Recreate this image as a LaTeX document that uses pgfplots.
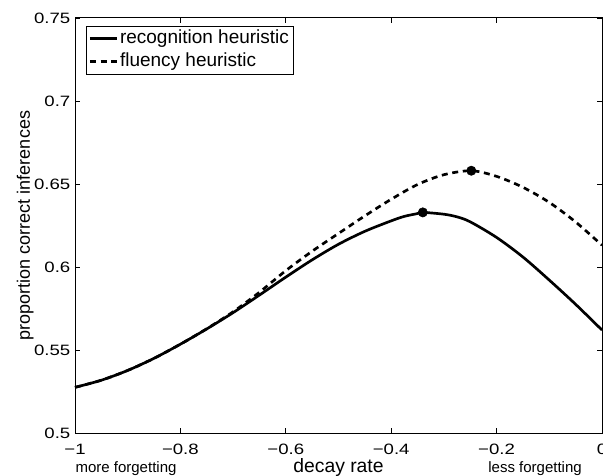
\documentclass[border=0pt]{standalone}
\usepackage{fontspec}
\setmainfont{Liberation Sans}
\newfontfamily\tickfont[FakeStretch=1.24]{Liberation Sans}
\usepackage{pgfplots}
\pgfplotsset{compat=1.18}

\begin{document}
\begin{tikzpicture}
\begin{axis}[
    scale only axis, width=395.25pt, height=311.25pt,
    xmin=-1, xmax=0, ymin=0.5, ymax=0.75,
    clip=false,
    xtick={-1,-0.8,-0.6,-0.4,-0.2,0},
    xticklabels={−1,−0.8,−0.6,−0.4,−0.2,0},
    ytick={0.5,0.55,0.6,0.65,0.7,0.75},
    yticklabels={0.5,0.55,0.6,0.65,0.7,0.75},
    tick align=inside, tick pos=both,
    major tick length=3.75pt,
    tick style={black, line width=0.6pt},
    axis line style={line width=0.75pt},
    tick label style={font=\tickfont\fontsize{11.25}{13}\selectfont},
    xticklabel style={yshift=-5pt},
    xlabel={decay rate},
    xlabel style={at={(axis description cs:0.5,0)}, anchor=base, yshift=-29.6pt,
        font=\fontsize{14.5}{16}\selectfont},
    ylabel={proportion correct inferences},
    ylabel style={at={(axis description cs:-0.0854,0.5)}, anchor=base,
        font=\fontsize{13.5}{15}\selectfont},
    legend style={at={(axis description cs:0.0209,0.9807)}, anchor=north west,
        draw=black, line width=0.6pt, font=\fontsize{14.25}{16}\selectfont,
        inner xsep=1.5pt, inner ysep=1pt, row sep=0.5pt,
        nodes={inner xsep=1.5pt, inner ysep=1.5pt, text height=10.5pt, text depth=3.2pt},
        cells={anchor=west}},
    legend image code/.code={\draw[#1, line width=2.2pt] (0pt,0pt) -- (20pt,0pt);},
]
% recognition heuristic
\addplot[black, line width=2pt, smooth, line join=round] table {
x y
-1.00 0.5275
-0.95 0.5318
-0.90 0.5377
-0.85 0.5450
-0.80 0.5535
-0.75 0.5627
-0.70 0.5725
-0.65 0.5831
-0.60 0.5939
-0.55 0.6043
-0.50 0.6137
-0.45 0.6215
-0.40 0.6278
-0.375 0.6305
-0.35 0.6322
-0.34 0.6329
-0.30 0.6318
-0.275 0.6302
-0.25 0.6272
-0.20 0.6178
-0.15 0.6060
-0.10 0.5921
-0.05 0.5775
0.00 0.5620
};
\addlegendentry{recognition heuristic}
% fluency heuristic
\addplot[black, line width=2pt, smooth, dash pattern=on 4.5pt off 3.5pt] table {
x y
-1.00 0.5275
-0.95 0.5318
-0.90 0.5377
-0.85 0.5450
-0.80 0.5535
-0.75 0.5628
-0.70 0.5730
-0.65 0.5848
-0.60 0.5978
-0.55 0.6095
-0.50 0.6202
-0.45 0.6308
-0.40 0.6408
-0.35 0.6497
-0.30 0.6556
-0.248 0.6580
-0.20 0.6546
-0.15 0.6480
-0.10 0.6389
-0.05 0.6271
0.00 0.6131
};
\addlegendentry{fluency heuristic}
\addplot[only marks, mark=*, mark size=3.5pt, black, forget plot] coordinates {
(-0.34,0.6329) (-0.248,0.6580)};
\node[anchor=base, font=\fontsize{11.25}{13}\selectfont, yshift=-29.5pt]
    at (axis description cs:0.0968,0) {more forgetting};
\node[anchor=base, font=\fontsize{11.25}{13}\selectfont, yshift=-29.5pt]
    at (axis description cs:0.873,0) {less forgetting};
\end{axis}
\pgfresetboundingbox
\useasboundingbox (-56.25pt,-31.5pt) rectangle (396pt,324.75pt);
\end{tikzpicture}
\end{document}
